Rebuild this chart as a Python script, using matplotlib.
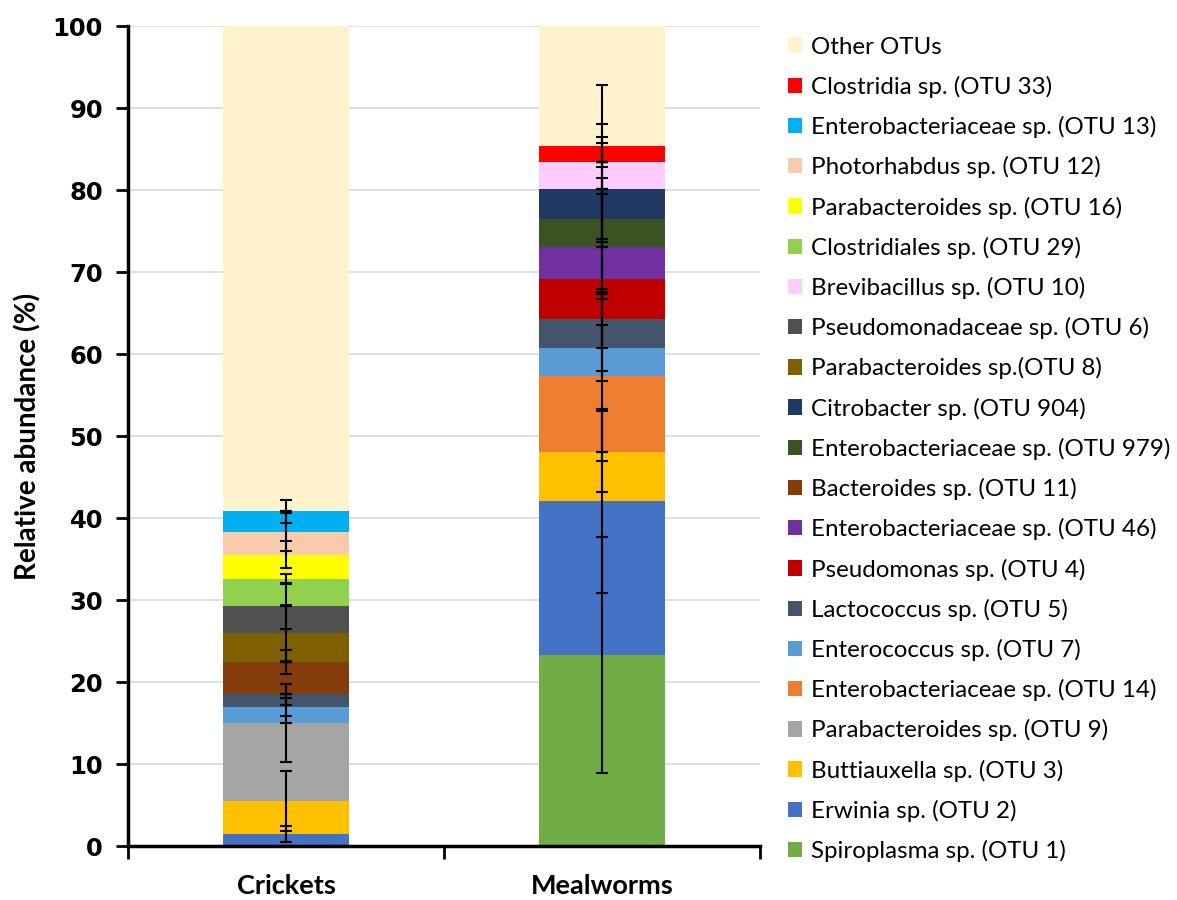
import matplotlib
matplotlib.use("Agg")
import matplotlib.pyplot as plt
import numpy as np

# stacked from bottom to top
species = [
    "Spiroplasma sp. (OTU 1)",
    "Erwinia sp. (OTU 2)",
    "Buttiauxella sp. (OTU 3)",
    "Parabacteroides sp. (OTU 9)",
    "Enterobacteriaceae sp. (OTU 14)",
    "Enterococcus sp. (OTU 7)",
    "Lactococcus sp. (OTU 5)",
    "Pseudomonas sp. (OTU 4)",
    "Enterobacteriaceae sp. (OTU 46)",
    "Bacteroides sp. (OTU 11)",
    "Enterobacteriaceae sp. (OTU 979)",
    "Citrobacter sp. (OTU 904)",
    "Parabacteroides sp.(OTU 8)",
    "Pseudomonadaceae sp. (OTU 6)",
    "Brevibacillus sp. (OTU 10)",
    "Clostridiales sp. (OTU 29)",
    "Parabacteroides sp. (OTU 16)",
    "Photorhabdus sp. (OTU 12)",
    "Enterobacteriaceae sp. (OTU 13)",
    "Clostridia sp. (OTU 33)",
    "Other OTUs",
]
colors = [
    "#70AD47", "#4472C4", "#FFC000", "#A5A5A5", "#ED7D31", "#5B9BD5",
    "#44546A", "#C00000", "#7030A0", "#843C0C", "#3B5323", "#1F3864",
    "#7F6000", "#505050", "#FFCCFF", "#92D050", "#FFFF00", "#F8CBAD",
    "#00B0F0", "#FF0000", "#FFF2CC",
]
groups = ["Crickets", "Mealworms"]

crickets = [0, 1.5, 4.0, 9.5, 0, 2.0, 1.5, 0, 0, 3.9, 0, 0, 3.6, 3.3, 0,
            3.3, 2.9, 2.8, 2.5, 0, 59.2]
mealworms = [23.3, 18.8, 6.0, 0, 9.2, 3.4, 3.6, 4.8, 4.0, 0, 3.4, 3.6, 0, 0,
             3.3, 0, 0, 0, 0, 2.0, 14.6]

# error (+/-) per OTU, "Other OTUs" has none
crickets_err = [0, 0.98, 3.7, 4.8, 0, 1.1, 1.27, 0, 0, 1.45, 0, 0, 3.45, 2.8,
                0, 0.63, 1.65, 2.3, 1.35, 0]
mealworms_err = [14.4, 11.25, 4.95, 0, 10.3, 2.8, 3.6, 12.4, 6.4, 0, 9.2, 6.4,
                 0, 0, 9.4, 0, 0, 0, 0, 2.6]

fig = plt.figure(figsize=(11.77, 9), dpi=100)
ax = fig.add_axes([128 / 1177, 54 / 900, 632 / 1177, 820 / 900])

x = np.array([0.5, 1.5])
vals = np.array([crickets, mealworms])
errs = np.array([crickets_err, mealworms_err])
bottoms = np.zeros(2)
tops = []
for i, name in enumerate(species):
    ax.bar(x, vals[:, i], bottom=bottoms, width=0.4, color=colors[i],
           label=name, zorder=2, edgecolor="none")
    bottoms = bottoms + vals[:, i]
    tops.append(bottoms.copy())

for i in range(len(crickets_err)):
    ax.errorbar(x, tops[i], yerr=errs[:, i], fmt="none", ecolor="black",
                elinewidth=1.5, capsize=4.5, capthick=1.5, zorder=3)

ax.set_xlim(0, 2)
ax.set_ylim(0, 100)
ax.set_yticks(range(0, 101, 10))
ax.yaxis.grid(True, color="#D9D9D9", linewidth=1.2, zorder=0)
ax.set_axisbelow(True)
for s in ["top", "right"]:
    ax.spines[s].set_visible(False)
for s in ["left", "bottom"]:
    ax.spines[s].set_linewidth(2.5)
ax.tick_params(axis="y", length=9, width=2, labelsize=17.5, pad=9)
for lab in ax.get_yticklabels():
    lab.set_fontweight("bold")

ax.set_xticks([0, 1, 2])
ax.set_xticklabels([])
ax.tick_params(axis="x", which="major", length=9, width=2)
ax.set_xticks(x, minor=True)
ax.set_xticklabels(groups, minor=True, fontsize=19.5, fontweight="bold",
                   family="Lato")
ax.tick_params(axis="x", which="minor", length=0, pad=20)

ax.set_ylabel("Relative abundance (%)", fontsize=20, fontweight="bold",
              family="Lato", labelpad=8)

handles, labels = ax.get_legend_handles_labels()
leg = fig.legend(handles[::-1], labels[::-1], loc="upper left",
                 bbox_to_anchor=(778 / 1177, 1 - 27 / 900), frameon=False,
                 prop={"family": "Lato", "size": 17.4}, handlelength=0.6,
                 handleheight=0.6, handletextpad=0.35, labelspacing=0.75,
                 borderaxespad=0)

fig.savefig("out.png", dpi=100)
